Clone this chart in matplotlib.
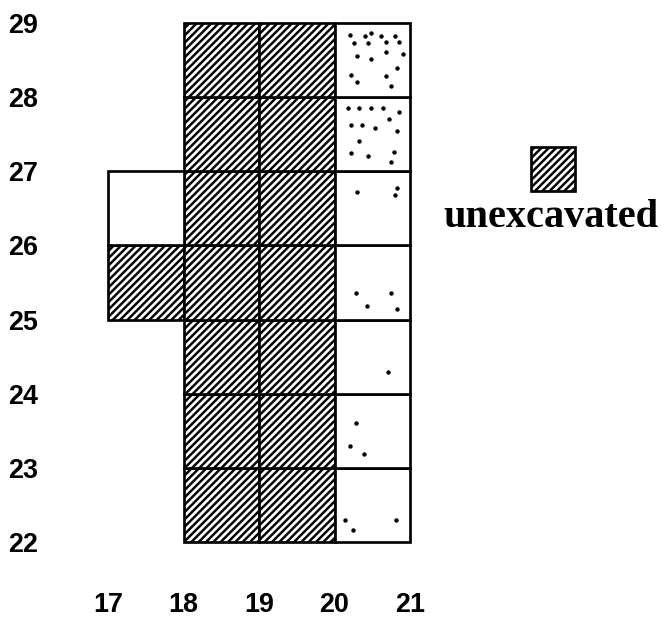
import matplotlib
matplotlib.use("Agg")
import matplotlib.pyplot as plt
from matplotlib.patches import Rectangle
from matplotlib import font_manager

# grid squares (lower-left corner: column, row)
hatched_cols = [17, 18, 18, 18, 18, 18, 18, 18, 19, 19, 19, 19, 19, 19, 19]
hatched_rows = [25, 22, 23, 24, 25, 26, 27, 28, 22, 23, 24, 25, 26, 27, 28]
open_cols = [17, 20, 20, 20, 20, 20, 20, 20]
open_rows = [26, 22, 23, 24, 25, 26, 27, 28]

# dots in column 20: offsets inside each square (fraction from left, fraction from top)
dots_row28 = [(0.20, 0.16), (0.40, 0.17), (0.48, 0.14), (0.61, 0.17), (0.80, 0.17),
              (0.26, 0.27), (0.44, 0.27), (0.68, 0.25), (0.86, 0.25), (0.68, 0.39),
              (0.91, 0.42), (0.30, 0.45), (0.48, 0.49), (0.83, 0.61), (0.22, 0.70),
              (0.68, 0.71), (0.30, 0.80), (0.75, 0.85)]
dots_row27 = [(0.18, 0.15), (0.33, 0.15), (0.48, 0.15), (0.64, 0.15), (0.86, 0.20),
              (0.72, 0.30), (0.22, 0.37), (0.36, 0.37), (0.54, 0.41), (0.83, 0.45),
              (0.33, 0.59), (0.22, 0.76), (0.44, 0.80), (0.79, 0.74), (0.75, 0.88)]
dots_row26 = [(0.30, 0.28), (0.83, 0.22), (0.80, 0.32)]
dots_row25 = [(0.28, 0.64), (0.75, 0.64), (0.43, 0.82), (0.83, 0.86)]
dots_row24 = [(0.71, 0.71)]
dots_row23 = [(0.28, 0.39), (0.21, 0.70), (0.39, 0.81)]
dots_row22 = [(0.14, 0.70), (0.82, 0.70), (0.25, 0.84)]
dot_rows = {28: dots_row28, 27: dots_row27, 26: dots_row26, 25: dots_row25,
            24: dots_row24, 23: dots_row23, 22: dots_row22}

x_ticks = [17, 18, 19, 20, 21]
y_ticks = [22, 23, 24, 25, 26, 27, 28, 29]
legend_label = "unexcavated"

names = {f.name for f in font_manager.fontManager.ttflist}
tick_font = "Liberation Sans Narrow" if "Liberation Sans Narrow" in names else "Liberation Sans"

plt.rcParams["hatch.linewidth"] = 2.0
DPI = 88
fig = plt.figure(figsize=(663 / DPI, 620 / DPI), dpi=DPI)
ax = fig.add_axes([45 / 663, 1 - 560 / 620, 618 / 663, 550 / 620])

for c, r in zip(hatched_cols, hatched_rows):
    ax.add_patch(Rectangle((c, r), 1, 1, facecolor="white", edgecolor="black",
                           hatch="////", lw=2.2, zorder=2))
for c, r in zip(open_cols, open_rows):
    ax.add_patch(Rectangle((c, r), 1, 1, facecolor="white", edgecolor="black",
                           lw=2.2, zorder=2))

for r, pts in dot_rows.items():
    xs = [20 + p[0] for p in pts]
    ys = [r + 1 - p[1] for p in pts]
    ax.scatter(xs, ys, s=13, color="black", zorder=3, linewidths=0)

ax.set_xlim(17 - 63 / 75.5, 17 + 555 / 75.5)
ax.set_ylim(22 - 18 / 74.14, 29 + 13 / 74.14)
ax.set_xticks(x_ticks)
ax.set_yticks(y_ticks)
ax.set_xticklabels([str(v) for v in x_ticks], family=tick_font, fontweight="bold", fontsize=22)
ax.set_yticklabels([str(v) for v in y_ticks], family=tick_font, fontweight="bold", fontsize=22)
ax.tick_params(axis="x", length=0, pad=26)
ax.tick_params(axis="y", length=0, pad=6)
for s in ax.spines.values():
    s.set_visible(False)

# legend: hatched square above its label
ax.add_patch(Rectangle((0.786, 0.671), 0.0712, 0.08, transform=ax.transAxes,
                       facecolor="white", edgecolor="black", hatch="////", lw=2.2,
                       clip_on=False))
ax.text(0.819, 0.6055, legend_label, transform=ax.transAxes, ha="center", va="baseline",
        family="Liberation Serif", fontweight="bold", fontsize=33)

fig.savefig("out.png", dpi=DPI)
